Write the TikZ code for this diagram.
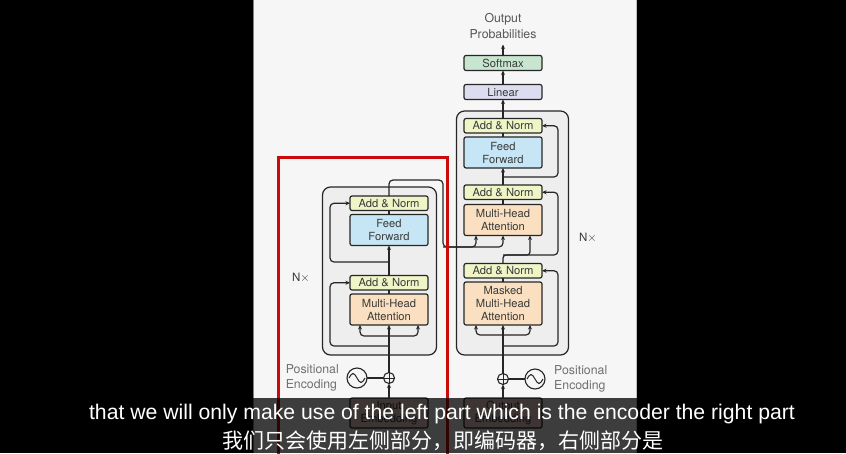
\documentclass[tikz,border=0pt]{standalone}
\usepackage{fontspec}
\setmainfont{TeX Gyre Heros}
\newfontfamily\subfont{Liberation Sans}
\newfontfamily\cjkfont{Noto Sans CJK SC}
\usepackage{tikz}
\usetikzlibrary{arrows.meta,positioning}
\definecolor{boxline}{HTML}{262626}
\definecolor{boxtext}{HTML}{3A3A3A}
\definecolor{labelgrey}{HTML}{707070}
\definecolor{page}{HTML}{F6F6F6}
\definecolor{stackfill}{HTML}{EEEEEF}
\definecolor{normfill}{HTML}{EFF5C6}
\definecolor{fffill}{HTML}{C6E6F5}
\definecolor{attnfill}{HTML}{FAE0C1}
\definecolor{linfill}{HTML}{DDDDF1}
\definecolor{softfill}{HTML}{C8E6CF}
\definecolor{embfill}{HTML}{F6D0D0}
\definecolor{redmark}{HTML}{CC0A0A}

\begin{document}
\begin{tikzpicture}[
  x=1pt,y=-1pt,
  layer/.style={draw=boxline,line width=1.2pt,rounded corners=2pt,minimum width=78pt,
                inner sep=0pt,outer sep=0pt,align=center,text=boxtext,font=\fontsize{11.2}{13}\selectfont},
  normbox/.style={layer,fill=normfill,minimum height=14.5pt},
  ffbox/.style={layer,fill=fffill,minimum height=31pt},
  attnbox/.style={layer,fill=attnfill,minimum height=31pt},
  linbox/.style={layer,fill=linfill,minimum height=15pt},
  softbox/.style={layer,fill=softfill,minimum height=15pt},
  embbox/.style={layer,fill=embfill,minimum height=30pt},
  stackbox/.style={draw=boxline,line width=1.2pt,rounded corners=8pt,fill=stackfill,minimum width=114pt},
  addop/.style={circle,draw=boxline,line width=1.1pt,minimum size=11pt,inner sep=0pt,outer sep=0pt,
    path picture={\draw[line width=1pt] (path picture bounding box.north) -- (path picture bounding box.south)
                  (path picture bounding box.west) -- (path picture bounding box.east);}},
  sinewave/.style={circle,draw=boxline,line width=1.1pt,minimum size=20pt,inner sep=0pt,outer sep=0pt,
    path picture={\draw[line width=1pt] ([xshift=-8pt]path picture bounding box.center)
                  sin ++(4pt,4.5pt) cos ++(4pt,-4.5pt) sin ++(4pt,-4.5pt) cos ++(4pt,4.5pt);}},
  sidelabel/.style={align=left,inner sep=0pt,text=labelgrey,font=\fontsize{12.3}{15.5}\selectfont},
  nlabel/.style={inner sep=0pt,text=boxtext,font=\fontsize{11.5}{13}\selectfont},
  link/.style={line width=1.2pt,draw=boxline,rounded corners=4pt},
  arrow/.style={link,-{Stealth[length=4.5pt,width=4pt]}},
  subline/.style={inner sep=0pt,text=white}
]
\useasboundingbox (0,0) rectangle (846,453);
\fill[black] (0,0) rectangle (846,453);
\fill[page] (253,0) rectangle (637,453);
\draw[gray,line width=1.5pt] (253.5,0) -- (253.5,453);
\draw[gray!50,line width=1pt] (636.5,0) -- (636.5,453);

% encoder
\node[stackbox,minimum height=168pt] (encstack) at (379.5,271) {};
\node[embbox] (inemb) at (389,413) {Input\\Embedding};
\node[addop] (encadd) at (389,378) {};
\node[sinewave] (encpe) at (357,378) {};
\node[sidelabel,anchor=east] (encpelabel) at (339,378) {Positional\\Encoding};
\node[attnbox] (encmha) at (389,309.5) {Multi-Head\\Attention};
\node[normbox,above=4pt of encmha] (encnorm1) {Add \& Norm};
\node[ffbox,above=30pt of encnorm1] (encff) {Feed\\Forward};
\node[normbox,above=4pt of encff] (encnorm2) {Add \& Norm};
\node[nlabel] (encn) at (301,278) {N$\times$};

% decoder
\node[stackbox,minimum width=112pt,minimum height=244pt] (decstack) at (512.5,233) {};
\node[embbox] (outemb) at (503,413) {Output\\Embedding};
\node[addop] (decadd) at (503,379) {};
\node[sinewave] (decpe) at (535,379) {};
\node[sidelabel,anchor=west] (decpelabel) at (554,379) {Positional\\Encoding};
\node[attnbox,minimum height=43pt] (decmmha) at (503,303.5) {Masked\\Multi-Head\\Attention};
\node[normbox,above=4pt of decmmha] (decnorm1) {Add \& Norm};
\node[attnbox,above=28pt of decnorm1] (decmha) {Multi-Head\\Attention};
\node[normbox,above=5pt of decmha] (decnorm2) {Add \& Norm};
\node[ffbox,above=17pt of decnorm2] (decff) {Feed\\Forward};
\node[normbox,above=4pt of decff] (decnorm3) {Add \& Norm};
\node[linbox,above=19pt of decnorm3] (linear) {Linear};
\node[softbox,above=14pt of linear] (softmax) {Softmax};
\node[sidelabel,align=center,above=17pt of softmax,text=boxtext!85] (outprob) {Output\\Probabilities};
\node[nlabel] (decn) at (588,238) {N$\times$};

% encoder wiring
\coordinate (encfork) at (389,336);
\coordinate (encres1) at (389,346);
\coordinate (encres2) at (389,262);
\coordinate (encturn) at (443,180);
\coordinate (crossin) at (443,247);
\draw[arrow] (inemb) -- (encadd);
\draw[link] (encpe) -- (encadd);
\draw[arrow] (encadd) -- (encmha);
\draw[arrow] (encfork) -| ([xshift=-29pt]encmha.south);
\draw[arrow] (encfork) -| ([xshift=29pt]encmha.south);
\draw[arrow] (encres1) -| ([xshift=-20pt]encnorm1.west) -- (encnorm1.west);
\draw[link] (encmha) -- (encnorm1);
\draw[arrow] (encnorm1) -- (encff);
\draw[arrow] (encres2) -| ([xshift=-20pt]encnorm2.west) -- (encnorm2.west);
\draw[link] (encff) -- (encnorm2);
\draw[arrow] (encnorm2.north) |- (encturn) -- (crossin) -| ([xshift=-27pt]decmha.south);
\draw[arrow] (crossin) -| (decmha.south);

% decoder wiring
\coordinate (decfork) at (503,335);
\coordinate (decres1) at (503,346);
\coordinate (qturn) at (503,255);
\coordinate (decres3) at (503,177);
\draw[arrow] (outemb) -- (decadd);
\draw[link] (decpe) -- (decadd);
\draw[arrow] (decadd) -- (decmmha);
\draw[arrow] (decfork) -| ([xshift=-27pt]decmmha.south);
\draw[arrow] (decfork) -| ([xshift=27pt]decmmha.south);
\draw[arrow] (decres1) -| ([xshift=16pt]decnorm1.east) -- (decnorm1.east);
\draw[link] (decmmha) -- (decnorm1);
\draw[arrow,rounded corners=3pt] (decnorm1.north) -- (qturn) -| ([xshift=27pt]decmha.south);
\draw[arrow] (qturn) -| ([xshift=16pt]decnorm2.east) -- (decnorm2.east);
\draw[link] (decmha) -- (decnorm2);
\draw[arrow] (decnorm2) -- (decff);
\draw[arrow] (decres3) -| ([xshift=16pt]decnorm3.east) -- (decnorm3.east);
\draw[link] (decff) -- (decnorm3);
\draw[arrow] (decnorm3) -- (linear);
\draw[arrow] (linear) -- (softmax);
\draw[arrow,shorten >=6pt] (softmax) -- (outprob);

% red mark
\draw[redmark,line width=3pt] (278,157) rectangle (447,470);

% subtitles
\fill[black,opacity=0.75] (74,398) rectangle (810,430);
\fill[black,opacity=0.75] (204,430) rectangle (681,453);
\node[subline,font=\subfont\fontsize{21.2}{24}\selectfont] (subtext) at (442,414)
  {that we will only make use of the left part which is the encoder the right part};
\node[subline,font=\cjkfont\fontsize{21}{24}\selectfont] (subcjk) at (443,441)
  {我们只会使用左侧部分，即编码器，右侧部分是};
\end{tikzpicture}
\end{document}
